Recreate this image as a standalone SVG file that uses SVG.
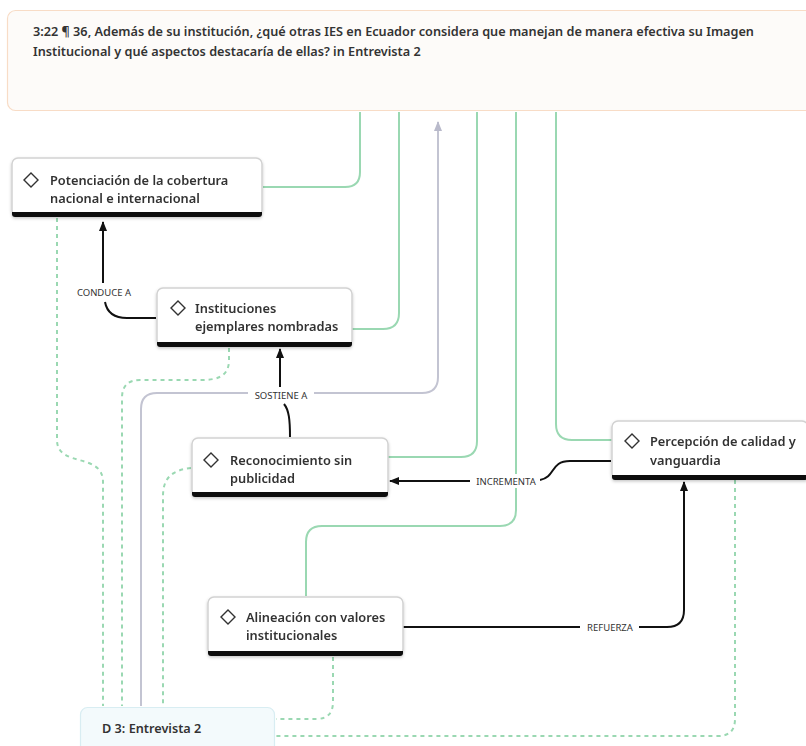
<svg xmlns="http://www.w3.org/2000/svg" width="806" height="746" viewBox="0 0 806 746">
  <defs>
    <style>
      .node-box { fill: #ffffff; stroke: #d2d2d2; stroke-width: 1.5; }
      .node-bar { fill: #111111; }
      .diamond { fill: none; stroke: #333333; stroke-width: 1.4; }
      .node-text { font-family: "Noto Sans", "Open Sans", sans-serif; font-size: 12.8px; font-weight: 600; fill: #333333; }
      .quote-text { font-family: "Noto Sans", "Open Sans", sans-serif; font-size: 12.7px; font-weight: 600; fill: #333333; }
      .doc-text { font-family: "Noto Sans", "Open Sans", sans-serif; font-size: 12.7px; font-weight: 600; fill: #333333; }
      .edge-label { font-family: "Noto Sans", "Open Sans", sans-serif; font-size: 9.5px; fill: #333333; text-anchor: middle; }
      .link-green { fill: none; stroke: #9ad8b2; stroke-width: 2; }
      .link-dashed { fill: none; stroke: #9ad8b2; stroke-width: 2; stroke-dasharray: 4 4; }
      .link-gray { fill: none; stroke: #c3c4d2; stroke-width: 2; }
      .link-black { fill: none; stroke: #111111; stroke-width: 2; }
    </style>
    <filter id="shadow" x="-10%" y="-20%" width="120%" height="150%">
      <feDropShadow dx="0" dy="1.5" stdDeviation="1.5" flood-color="#000000" flood-opacity="0.22"/>
    </filter>
    <marker id="arrow-black" markerUnits="userSpaceOnUse" markerWidth="10" markerHeight="10" viewBox="0 0 10 10" refX="9" refY="5" orient="auto">
      <path d="M0,1 L10,5 L0,9 Z" fill="#111111"/>
    </marker>
    <marker id="arrow-gray" markerUnits="userSpaceOnUse" markerWidth="10" markerHeight="10" viewBox="0 0 10 10" refX="9" refY="5" orient="auto">
      <path d="M0,1 L10,5 L0,9 Z" fill="#b9bacb"/>
    </marker>
  </defs>

  <rect width="806" height="746" fill="#ffffff"/>

  <!-- connectors -->
  <g id="connectors">
    <!-- quotation links (solid green) -->
    <path class="link-green" d="M360,112 V172 Q360,187 345,187 H263"/>
    <path class="link-green" d="M399,112 V313 Q399,329 383,329 H352"/>
    <path class="link-green" d="M477,112 V441 Q477,457 461,457 H388"/>
    <path class="link-green" d="M516,112 V510 Q516,526 500,526 H322 Q306,526 306,542 V596"/>
    <path class="link-green" d="M556,112 V424 Q556,440 572,440 H612"/>

    <!-- document to quotation (gray) -->
    <path class="link-gray" d="M141,706 V409 Q141,393 157,393 H422 Q438,393 438,377 V122" marker-end="url(#arrow-gray)"/>

    <!-- document links (dashed green) -->
    <path class="link-dashed" d="M57,218 V440 C57,468 103,452 103,482 V706"/>
    <path class="link-dashed" d="M229,348 V360 C229,378 215,380 200,380 H140 Q122,380 122,398 V706"/>
    <path class="link-dashed" d="M191,468 C172,470 163,478 163,496 V706"/>
    <path class="link-dashed" d="M333,657 V702 Q333,719 316,719 H276"/>
    <path class="link-dashed" d="M735,480 V719 Q735,736 718,736 H276"/>

    <!-- CONDUCE A -->
    <path class="link-black" d="M156,318 H127 Q108,318 105,302"/>
    <path class="link-black" d="M103,283 V222" marker-end="url(#arrow-black)"/>
    <rect x="74" y="285" width="60" height="14" fill="#ffffff"/>
    <text class="edge-label" x="104" y="295.5">CONDUCE A</text>

    <!-- SOSTIENE A -->
    <path class="link-black" d="M290,437 C290,420 289,410 284,404"/>
    <path class="link-black" d="M280,387 V349" marker-end="url(#arrow-black)"/>
    <rect x="248" y="388" width="66" height="14" fill="#ffffff"/>
    <text class="edge-label" x="281" y="398.5">SOSTIENE A</text>

    <!-- INCREMENTA -->
    <path class="link-black" d="M611,461 H570 C550,461 556,477 540,480"/>
    <path class="link-black" d="M470,481 H390" marker-end="url(#arrow-black)"/>
    <rect x="472" y="474" width="68" height="14" fill="#ffffff"/>
    <text class="edge-label" x="506" y="484.5">INCREMENTA</text>

    <!-- REFUERZA -->
    <path class="link-black" d="M403,627 H580"/>
    <path class="link-black" d="M639,627 H667 Q684,627 684,610 V482" marker-end="url(#arrow-black)"/>
    <text class="edge-label" x="610" y="630.5">REFUERZA</text>
  </g>

  <!-- quotation -->
  <g id="quote-3-22">
    <rect x="7.5" y="10.5" width="810" height="100" rx="8" fill="#fdfbf9" stroke="#f8dcc6" stroke-width="1.2"/>
    <text class="quote-text" x="33" y="36">3:22 ¶ 36, Además de su institución, ¿qué otras IES en Ecuador considera que manejan de manera efectiva su Imagen</text>
    <text class="quote-text" x="33" y="56">Institucional y qué aspectos destacaría de ellas? in Entrevista 2</text>
  </g>

  <!-- codes -->
  <g id="code-potenciacion" filter="url(#shadow)">
    <rect class="node-box" x="12" y="158" width="250" height="58" rx="6"/>
    <path class="node-bar" d="M12,212 H262 V214 Q262,217 259,217 H15 Q12,217 12,214 Z"/>
    <polygon class="diamond" points="31,173 38,180 31,187 24,180"/>
    <text class="node-text" x="50" y="185">Potenciación de la cobertura</text>
    <text class="node-text" x="50" y="203">nacional e internacional</text>
  </g>

  <g id="code-instituciones" filter="url(#shadow)">
    <rect class="node-box" x="157" y="288" width="195" height="58" rx="6"/>
    <path class="node-bar" d="M157,342 H352 V344 Q352,347 349,347 H160 Q157,347 157,344 Z"/>
    <polygon class="diamond" points="178,301 185,308 178,315 171,308"/>
    <text class="node-text" x="195" y="313">Instituciones</text>
    <text class="node-text" x="195" y="331">ejemplares nombradas</text>
  </g>

  <g id="code-reconocimiento" filter="url(#shadow)">
    <rect class="node-box" x="192" y="438" width="196" height="58" rx="6"/>
    <path class="node-bar" d="M192,492 H388 V494 Q388,497 385,497 H195 Q192,497 192,494 Z"/>
    <polygon class="diamond" points="211,453 218,460 211,467 204,460"/>
    <text class="node-text" x="230" y="465">Reconocimiento sin</text>
    <text class="node-text" x="230" y="483">publicidad</text>
  </g>

  <g id="code-percepcion" filter="url(#shadow)">
    <rect class="node-box" x="612" y="421" width="196" height="58" rx="6"/>
    <path class="node-bar" d="M612,475 H808 V477 Q808,480 805,480 H615 Q612,480 612,477 Z"/>
    <polygon class="diamond" points="632,434 639,441 632,448 625,441"/>
    <text class="node-text" x="650" y="446">Percepción de calidad y</text>
    <text class="node-text" x="650" y="465">vanguardia</text>
  </g>

  <g id="code-alineacion" filter="url(#shadow)">
    <rect class="node-box" x="208" y="597" width="195" height="58" rx="6"/>
    <path class="node-bar" d="M208,651 H403 V653 Q403,656 400,656 H211 Q208,656 208,653 Z"/>
    <polygon class="diamond" points="228,610 235,617 228,624 221,617"/>
    <text class="node-text" x="246" y="622">Alineación con valores</text>
    <text class="node-text" x="246" y="640">institucionales</text>
  </g>

  <!-- document -->
  <g id="doc-entrevista-2">
    <rect x="80.5" y="707.5" width="194" height="50" rx="7" fill="#f3fafc" stroke="#d8edf2" stroke-width="1.2"/>
    <text class="doc-text" x="102" y="733">D 3: Entrevista 2</text>
  </g>
</svg>
